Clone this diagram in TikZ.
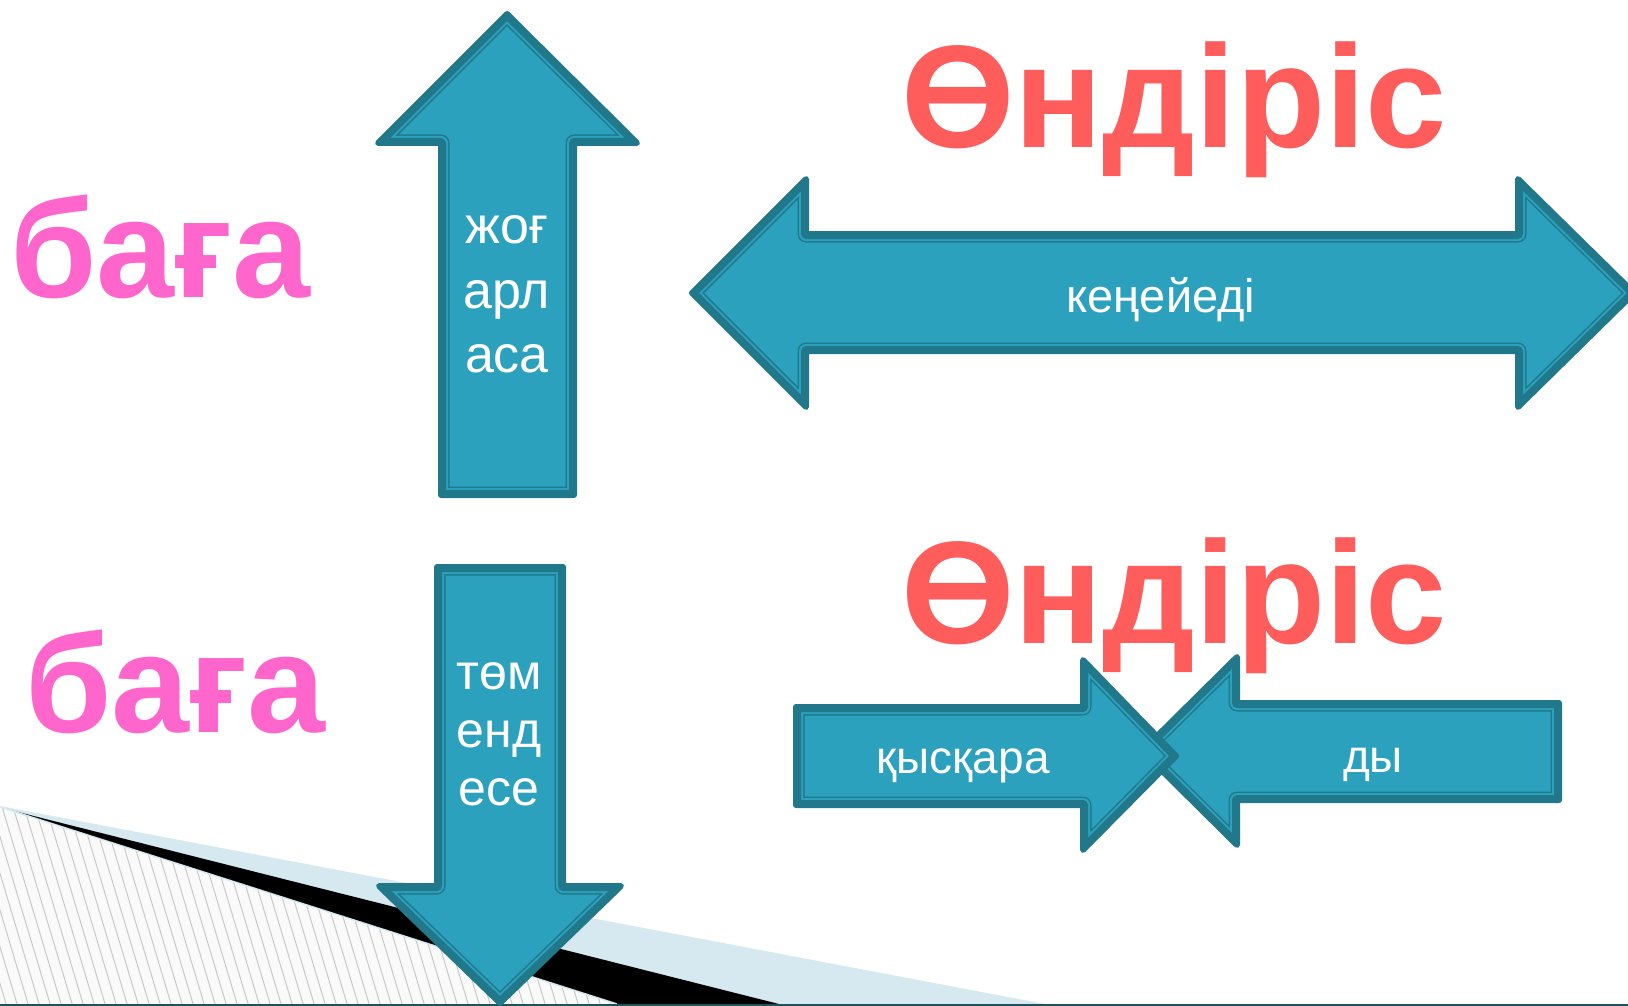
\documentclass[tikz,border=0pt]{standalone}
\usepackage{fontspec}
\setmainfont{Liberation Sans}
\definecolor{arrowfillc}{RGB}{44,161,190}
\definecolor{arrowlinec}{RGB}{32,120,138}
\definecolor{pinkc}{RGB}{255,102,204}
\definecolor{redc}{RGB}{255,92,92}
\definecolor{lightbluec}{RGB}{214,233,241}
\definecolor{bottomc}{RGB}{28,82,96}
\definecolor{hatchbgc}{RGB}{250,250,250}
\definecolor{hatchc}{RGB}{200,200,200}
\tikzset{
  pinkword/.style={text=pinkc, inner sep=0pt, font=\fontsize{140}{140}\selectfont\bfseries},
  redword/.style={text=redc, inner sep=0pt, font=\fontsize{146}{146}\selectfont\bfseries},
  arrowtext/.style={text=white, inner sep=0pt, anchor=base, font=\fontsize{52}{52}\selectfont},
  arrowtextb/.style={text=white, inner sep=0pt, anchor=base, font=\fontsize{50}{50}\selectfont},
  midtext/.style={text=white, inner sep=0pt, anchor=base, font=\fontsize{46}{46}\selectfont},
  hatchline/.style={draw=hatchc, line width=1pt},
}
\newcommand\blockarrow[1]{%
  \fill[arrowfillc] #1;
  \begin{scope}
    \clip #1;
    \draw[arrowlinec, line width=17pt, line join=round] #1;
    \draw[arrowfillc, line width=14pt, line join=round] #1;
    \draw[arrowlinec, line width=10pt, line join=round] #1;
  \end{scope}
  \draw[arrowlinec, line width=6pt, line join=round] #1;}
\begin{document}
\begin{tikzpicture}[x=1pt, y=-1pt]
\useasboundingbox (0,0) rectangle (1628,1006);
\fill[white] (0,0) rectangle (1628,1006);
% background decoration
\fill[lightbluec] (0,806) -- (1045,1004) -- (0,1004) -- cycle;
\begin{scope}
  \clip (0,807) -- (617,1004) -- (0,1004) -- cycle;
  \fill[hatchbgc] (0,800) rectangle (620,1006);
  \foreach \i in {-25,...,60} \draw[hatchline] ({\i*11},800) -- ++(62,207);
\end{scope}
\fill[black] (10,810) -- (779,1004) -- (617,1004) -- cycle;
\draw[lightbluec, line width=1.5pt] (0,807) -- (617,1004);
\fill[bottomc] (0,1003.5) rectangle (1628,1006);
% words
\node[pinkword, anchor=base west] (baga1) at (10,297) {баға};
\node[pinkword, anchor=base west] (baga2) at (25,732) {баға};
\node[redword, anchor=base] (ondiris1) at (1174,148) {Өндіріс};
\node[redword, anchor=base] (ondiris2) at (1174,643) {Өндіріс};
% up arrow
\blockarrow{(507,14) -- (637,143) -- (574,143) -- (574,495) -- (441,495) -- (441,143) -- (378,143) -- cycle}
% down arrow
\blockarrow{(437,567) -- (563,567) -- (563,886) -- (621,886) -- (500,1003) -- (379,886) -- (437,886) -- cycle}
% double arrow
\blockarrow{(692,293) -- (806,179) -- (806,234) -- (1518,234) -- (1518,179) -- (1634,293) -- (1518,407) -- (1518,351) -- (806,351) -- (806,407) -- cycle}
% converging arrows
\blockarrow{(1142,751) -- (1237,657) -- (1237,703) -- (1559,703) -- (1559,800) -- (1237,800) -- (1237,845) -- cycle}
\blockarrow{(796,707) -- (1083,707) -- (1083,660) -- (1176,756) -- (1083,850) -- (1083,805) -- (796,805) -- cycle}
% arrow texts
\node[arrowtext] (up1) at (507,243) {жоғ};
\node[arrowtext] (up2) at (507,308) {арл};
\node[arrowtext] (up3) at (507,372) {аса};
\node[arrowtextb] (dn1) at (499,689) {төм};
\node[arrowtextb] (dn2) at (499,747) {енд};
\node[arrowtextb] (dn3) at (499,805) {есе};
\node[midtext, font=\fontsize{47}{47}\selectfont] (ken) at (1161,312) {кеңейеді};
\node[midtext] (kys) at (963,773) {қысқара};
\node[midtext] (dy) at (1373,772) {ды};
\end{tikzpicture}
\end{document}
